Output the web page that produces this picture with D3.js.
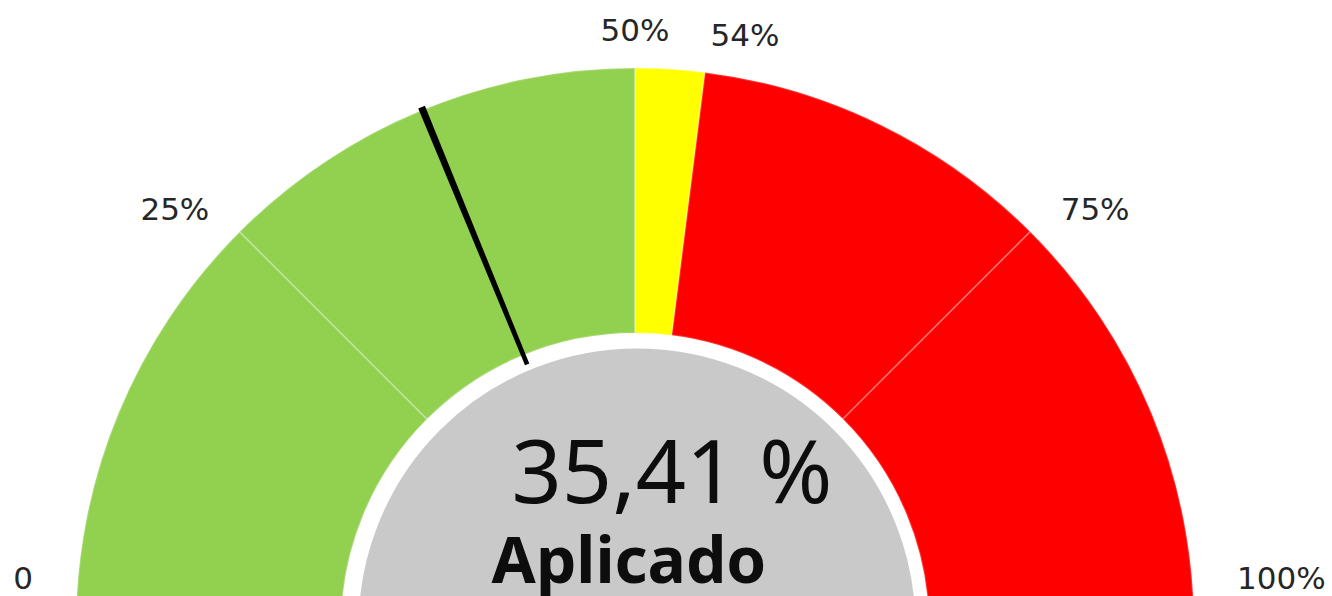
<!DOCTYPE html>
<html>
<head>
<meta charset="utf-8">
<script src="https://cdn.jsdelivr.net/npm/d3@7"></script>
<style>
  body { margin: 0; background: #fff; }
  svg { display: block; }
</style>
</head>
<body>
<svg width="1332" height="596"></svg>
<script>
// gauge bands (percent)
const bandStarts = [0, 25, 50, 54, 75]
const bandEnds = [25, 50, 54, 75, 100]
const bandColors = ['#92d050', '#92d050', '#ffff00', '#ff0000', '#ff0000']

const tickValues = [0, 25, 50, 54, 75, 100]
const tickLabels = ['0', '25%', '50%', '54%', '75%', '100%']

const valueText = '35,41 %'
const caption = 'Aplicado'
const needleAt = 37.6 // where the needle is drawn in the picture

const svg = d3.select('svg');
const width = parseFloat(svg.attr('width'));
const height = parseFloat(svg.attr('height'));

const cx = 635, cy = 627;
const outerR = 559, innerR = 294;

const angle = d3.scaleLinear().domain([0, 100]).range([-Math.PI / 2, Math.PI / 2]);

const g = svg.append('g').attr('transform', `translate(${cx},${cy})`);

const arc = d3.arc().innerRadius(innerR).outerRadius(outerR);

g.selectAll('path.band')
    .data(bandStarts.map((s, i) => ({ s: s, e: bandEnds[i], c: bandColors[i] })))
    .join('path')
    .attr('class', 'band')
    .attr('d', d => arc({ startAngle: angle(d.s), endAngle: angle(d.e) }))
    .attr('fill', d => d.c)
    .attr('stroke', '#ffffff')
    .attr('stroke-opacity', 0.22)
    .attr('stroke-width', 2);

// grey hub
g.append('circle')
    .attr('cx', 2)
    .attr('r', 280)
    .attr('fill', '#c9c9c9')
    .attr('stroke', '#ffffff')
    .attr('stroke-width', 3);

// needle
function polar(v, r) {
    const a = angle(v);
    return [r * Math.sin(a), -r * Math.cos(a)];
}
const na = angle(needleAt);
const nx = Math.cos(na), ny = Math.sin(na); // perpendicular direction
const p1 = polar(needleAt, 284), p2 = polar(needleAt, 562);
const w1 = 2.3, w2 = 3.6;
g.append('path')
    .attr('d', d3.line()([
        [p1[0] - nx * w1, p1[1] - ny * w1],
        [p2[0] - nx * w2, p2[1] - ny * w2],
        [p2[0] + nx * w2, p2[1] + ny * w2],
        [p1[0] + nx * w1, p1[1] + ny * w1]
    ]) + 'Z')
    .attr('fill', '#000');

// tick labels around the gauge
const labelRx = 602, labelRy = 612;
g.selectAll('text.tick')
    .data(tickValues)
    .join('text')
    .attr('class', 'tick')
    .attr('x', d => polar(d, labelRx)[0])
    .attr('y', d => Math.min(polar(d, labelRy)[1] + 15, height - 18 - cy))
    .attr('dominant-baseline', 'central')
    .attr('text-anchor', d => d < 50 ? 'end' : (d > 50 ? 'start' : 'middle'))
    .attr('font-family', 'DejaVu Sans, Verdana, sans-serif')
    .attr('font-size', 31)
    .attr('fill', '#262626')
    .text((d, i) => tickLabels[i]);

// centre texts
svg.append('text')
    .attr('x', cx + 37)
    .attr('y', 503)
    .attr('text-anchor', 'middle')
    .attr('font-family', 'Noto Sans, Open Sans, sans-serif')
    .attr('font-size', 88)
    .attr('fill', '#0d0d0d')
    .text(valueText);

svg.append('text')
    .attr('x', cx - 6)
    .attr('y', 583)
    .attr('text-anchor', 'middle')
    .attr('font-family', 'Noto Sans, Open Sans, sans-serif')
    .attr('font-weight', 'bold')
    .attr('font-size', 64)
    .attr('fill', '#0d0d0d')
    .text(caption);
</script>
</body>
</html>
